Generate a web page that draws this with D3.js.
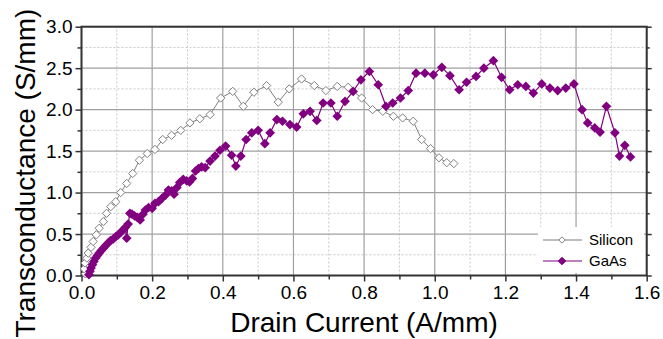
<!DOCTYPE html>
<html>
<head>
<meta charset="utf-8">
<script src="https://cdn.jsdelivr.net/npm/d3@7"></script>
<style>
  body { margin: 0; background: #fff; }
  text { font-family: "Liberation Sans", Arial, sans-serif; }
</style>
</head>
<body>
<div id="chart"></div>
<script>
// drain current (A/mm), transconductance (S/mm)
const siliconX = [0.011, 0.008, 0.010, 0.015, 0.019, 0.027, 0.033, 0.042, 0.050, 0.062, 0.071, 0.083, 0.097, 0.111, 0.128, 0.145, 0.164, 0.186, 0.208, 0.230, 0.255, 0.281, 0.307, 0.335, 0.364, 0.394, 0.428, 0.458, 0.488, 0.524, 0.557, 0.588, 0.623, 0.659, 0.692, 0.724, 0.755, 0.793, 0.824, 0.853, 0.883, 0.909, 0.939, 0.963, 0.988, 1.012, 1.034, 1.054];
const siliconY = [0.02, 0.08, 0.15, 0.21, 0.27, 0.34, 0.41, 0.49, 0.57, 0.65, 0.75, 0.83, 0.89, 1.00, 1.11, 1.23, 1.39, 1.47, 1.52, 1.64, 1.69, 1.75, 1.84, 1.89, 1.94, 2.14, 2.22, 2.04, 2.21, 2.29, 2.09, 2.25, 2.37, 2.29, 2.23, 2.28, 2.27, 2.14, 2.00, 1.98, 1.92, 1.90, 1.86, 1.64, 1.53, 1.42, 1.36, 1.35];

const gaasX = [0.021, 0.024, 0.027, 0.031, 0.035, 0.040, 0.045, 0.050, 0.056, 0.062, 0.068, 0.075, 0.082, 0.090, 0.097, 0.104, 0.111, 0.118, 0.124, 0.128, 0.132, 0.137, 0.143, 0.150, 0.158, 0.166, 0.174, 0.181, 0.190, 0.200, 0.208, 0.218, 0.228, 0.238, 0.246, 0.255, 0.262, 0.270, 0.278, 0.288, 0.298, 0.306, 0.314, 0.323, 0.331, 0.340, 0.350, 0.364, 0.378, 0.392, 0.408, 0.425, 0.437, 0.451, 0.466, 0.482, 0.500, 0.519, 0.534, 0.553, 0.569, 0.590, 0.609, 0.628, 0.647, 0.666, 0.684, 0.706, 0.724, 0.746, 0.769, 0.791, 0.815, 0.840, 0.862, 0.881, 0.903, 0.925, 0.947, 0.972, 0.996, 1.020, 1.043, 1.069, 1.090, 1.117, 1.139, 1.166, 1.189, 1.212, 1.235, 1.258, 1.279, 1.303, 1.326, 1.348, 1.371, 1.394, 1.417, 1.433, 1.453, 1.468, 1.486, 1.510, 1.523, 1.538, 1.554];
const gaasY = [0.01, 0.05, 0.09, 0.13, 0.17, 0.21, 0.24, 0.27, 0.30, 0.33, 0.36, 0.39, 0.42, 0.44, 0.47, 0.49, 0.52, 0.55, 0.58, 0.45, 0.62, 0.75, 0.74, 0.72, 0.70, 0.67, 0.74, 0.79, 0.82, 0.81, 0.87, 0.89, 0.93, 0.97, 1.03, 1.02, 0.98, 1.06, 1.12, 1.16, 1.14, 1.13, 1.17, 1.26, 1.29, 1.31, 1.30, 1.38, 1.44, 1.51, 1.56, 1.45, 1.32, 1.44, 1.64, 1.72, 1.75, 1.59, 1.72, 1.88, 1.86, 1.82, 1.79, 1.95, 1.98, 1.87, 2.08, 2.08, 1.92, 2.10, 2.22, 2.36, 2.46, 2.30, 2.04, 2.08, 2.14, 2.23, 2.44, 2.44, 2.42, 2.51, 2.41, 2.24, 2.33, 2.40, 2.50, 2.59, 2.39, 2.24, 2.30, 2.28, 2.20, 2.31, 2.26, 2.23, 2.26, 2.31, 2.00, 1.84, 1.78, 1.73, 2.04, 1.72, 1.44, 1.57, 1.43];

const xTicks = [0, 0.2, 0.4, 0.6, 0.8, 1.0, 1.2, 1.4, 1.6];
const yTicks = [0, 0.5, 1.0, 1.5, 2.0, 2.5, 3.0];
const xMinor = [0.1, 0.3, 0.5, 0.7, 0.9, 1.1, 1.3, 1.5];
const yMinor = [0.25, 0.75, 1.25, 1.75, 2.25, 2.75];

const width = 663, height = 339;
const margin = {top: 26.7, right: 16.3, bottom: 63.5, left: 81.5};

const svg = d3.select("#chart").append("svg")
  .attr("width", width)
  .attr("height", height);

const x = d3.scaleLinear().domain([0, 1.6]).range([margin.left, width - margin.right]);
const y = d3.scaleLinear().domain([0, 3]).range([height - margin.bottom, margin.top]);

const x0 = x.range()[0], x1 = x.range()[1], y0 = y.range()[0], y1 = y.range()[1];

// grid: minor dashed, major solid
const grid = svg.append("g");
grid.selectAll(".xm").data(xMinor).enter().append("line")
  .attr("x1", d => x(d)).attr("x2", d => x(d)).attr("y1", y0).attr("y2", y1)
  .attr("stroke", "#c8c8c8").attr("stroke-dasharray", "2,2");
grid.selectAll(".ym").data(yMinor).enter().append("line")
  .attr("y1", d => y(d)).attr("y2", d => y(d)).attr("x1", x0).attr("x2", x1)
  .attr("stroke", "#c8c8c8").attr("stroke-dasharray", "2,2");
grid.selectAll(".xM").data(xTicks).enter().append("line")
  .attr("x1", d => x(d)).attr("x2", d => x(d)).attr("y1", y0).attr("y2", y1)
  .attr("stroke", "#a0a0a0").attr("stroke-width", 1.2);
grid.selectAll(".yM").data(yTicks).enter().append("line")
  .attr("y1", d => y(d)).attr("y2", d => y(d)).attr("x1", x0).attr("x2", x1)
  .attr("stroke", "#a0a0a0").attr("stroke-width", 1.2);

// axes
const fmt = d3.format(".1f");
const axisStyle = g => {
  g.select(".domain").remove();
  g.selectAll("line").attr("stroke", "#333").attr("stroke-width", 1.5);
  g.selectAll("text").style("font-size", "19px").attr("fill", "#000");
};

svg.append("g").attr("transform", `translate(0,${y0})`)
  .call(d3.axisBottom(x).tickValues(xTicks).tickFormat(fmt).tickSize(6).tickPadding(4))
  .call(axisStyle);
svg.append("g").attr("transform", `translate(0,${y0})`)
  .call(d3.axisBottom(x).tickValues(xMinor).tickFormat("").tickSize(4))
  .call(axisStyle);
svg.append("g").attr("transform", `translate(${x0},0)`)
  .call(d3.axisLeft(y).tickValues(yTicks).tickFormat(fmt).tickSize(6).tickPadding(3))
  .call(axisStyle);
svg.append("g").attr("transform", `translate(${x0},0)`)
  .call(d3.axisLeft(y).tickValues(yMinor).tickFormat("").tickSize(4))
  .call(axisStyle);
svg.append("g").attr("transform", `translate(${x1},0)`)
  .call(d3.axisRight(y).tickValues(yTicks).tickFormat("").tickSize(5))
  .call(axisStyle);
svg.append("g").attr("transform", `translate(${x1},0)`)
  .call(d3.axisRight(y).tickValues(yMinor).tickFormat("").tickSize(3))
  .call(axisStyle);

// frame
svg.append("rect")
  .attr("x", x0).attr("y", y1).attr("width", x1 - x0).attr("height", y0 - y1)
  .attr("fill", "none").attr("stroke", "#333").attr("stroke-width", 2);

// series
const diamond = d3.symbol().type(d3.symbolDiamond2);
const silicon = siliconX.map((v, i) => [v, siliconY[i]]);
const gaas = gaasX.map((v, i) => [v, gaasY[i]]);
const line = d3.line().x(d => x(d[0])).y(d => y(d[1]));

svg.append("path").datum(silicon).attr("d", line)
  .attr("fill", "none").attr("stroke", "#7f7f7f").attr("stroke-width", 1);
svg.append("g").selectAll("path").data(silicon).enter().append("path")
  .attr("d", diamond.size(44)())
  .attr("transform", d => `translate(${x(d[0])},${y(d[1])})`)
  .attr("fill", "#fff").attr("stroke", "#7f7f7f").attr("stroke-width", 1);

svg.append("path").datum(gaas).attr("d", line)
  .attr("fill", "none").attr("stroke", "#800080").attr("stroke-width", 1.2);
svg.append("g").selectAll("path").data(gaas).enter().append("path")
  .attr("d", diamond.size(60)())
  .attr("transform", d => `translate(${x(d[0])},${y(d[1])})`)
  .attr("fill", "#800080");

// legend
const legend = svg.append("g");
legend.append("rect").attr("x", 538).attr("y", 227).attr("width", 106).attr("height", 46).attr("fill", "#fff");
const entries = [
  {name: "Silicon", color: "#7f7f7f", fill: "#fff", size: 26},
  {name: "GaAs", color: "#800080", fill: "#800080", size: 36}
];
entries.forEach((e, i) => {
  const ly = 240 + i * 21;
  legend.append("line").attr("x1", 543).attr("x2", 582).attr("y1", ly).attr("y2", ly)
    .attr("stroke", e.color).attr("stroke-width", 1.2);
  legend.append("path").attr("d", d3.symbol().type(d3.symbolDiamond2).size(e.size)())
    .attr("transform", `translate(562,${ly})`)
    .attr("fill", e.fill).attr("stroke", e.color);
  legend.append("text").attr("x", 589).attr("y", ly).attr("dy", "0.35em")
    .style("font-size", "15px").text(e.name);
});

// titles
svg.append("text").attr("x", 364).attr("y", 332)
  .attr("text-anchor", "middle").style("font-size", "28px")
  .text("Drain Current (A/mm)");
svg.append("text")
  .attr("transform", `translate(35,${(y0 + y1) / 2 + 22}) rotate(-90)`)
  .attr("text-anchor", "middle").style("font-size", "28px")
  .text("Transconductance (S/mm)");
</script>
</body>
</html>
